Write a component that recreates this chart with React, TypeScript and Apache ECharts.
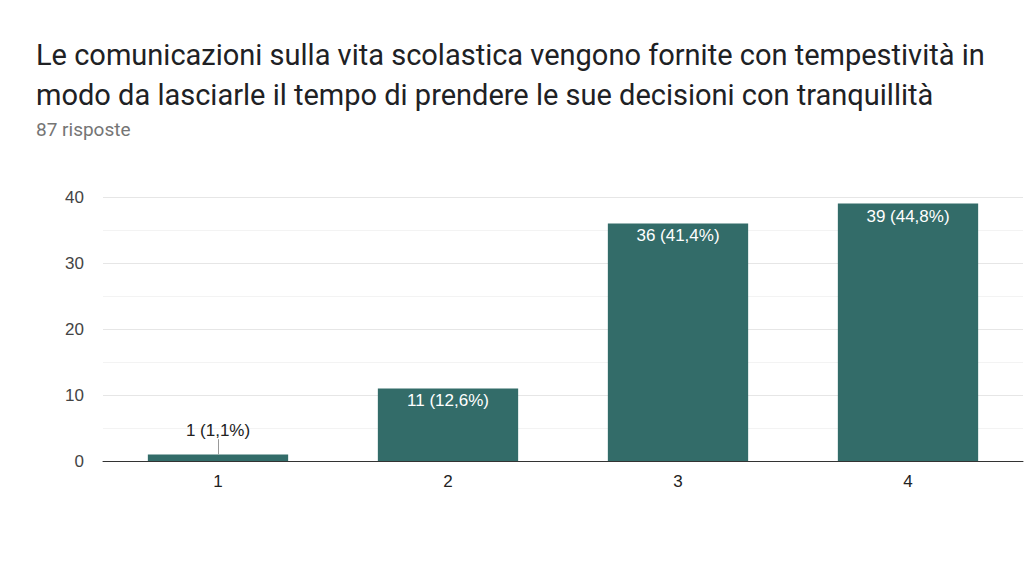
import React, { useEffect, useRef } from "react";
import * as echarts from "echarts";

const titleText =
  "Le comunicazioni sulla vita scolastica vengono fornite con tempestività in\nmodo da lasciarle il tempo di prendere le sue decisioni con tranquillità";
const subtitleText = "87 risposte";
const categories = ["1", "2", "3", "4"];
const values = [1, 11, 36, 39];
const valueLabels = ["1 (1,1%)", "11 (12,6%)", "36 (41,4%)", "39 (44,8%)"];

export default function App() {
  const ref = useRef<HTMLDivElement>(null);
  useEffect(() => {
    if (!ref.current) return;
    const chart = echarts.init(ref.current, undefined, { renderer: "svg" });
    const barColor = "#336c69";
    chart.setOption({
      animation: false,
      backgroundColor: "#ffffff",
      title: {
        text: titleText,
        subtext: subtitleText,
        left: 26,
        top: 35,
        itemGap: 4,
        padding: [0, 10],
        textStyle: {
          fontFamily: "Roboto",
          fontSize: 29,
          fontWeight: "normal",
          color: "#202124",
          lineHeight: 40,
        },
        subtextStyle: {
          fontFamily: "Roboto",
          fontSize: 19,
          color: "#757575",
          lineHeight: 20,
        },
      },
      grid: { left: 103, right: 1, top: 197, bottom: 110, containLabel: false },
      xAxis: {
        type: "category",
        data: categories,
        axisTick: { show: false },
        axisLine: { show: true, lineStyle: { color: "#333333", width: 1 } },
        axisLabel: {
          margin: 12,
          fontFamily: "Liberation Sans, Arial",
          fontSize: 17,
          color: "#222222",
        },
      },
      yAxis: {
        type: "value",
        min: 0,
        max: 40,
        interval: 10,
        axisLine: { show: false },
        axisTick: { show: false },
        axisLabel: {
          margin: 19,
          fontFamily: "Liberation Sans, Arial",
          fontSize: 17,
          color: "#444444",
        },
        splitLine: { show: true, lineStyle: { color: "#e6e6e6", width: 1 } },
        minorTick: { show: false, splitNumber: 2 },
        minorSplitLine: { show: true, lineStyle: { color: "#f3f3f3", width: 1 } },
      },
      series: [
        {
          type: "bar",
          barCategoryGap: "39%",
          data: values.map((v, i) => ({
            value: v,
            label:
              i === 0
                ? {
                    show: true,
                    position: "top",
                    distance: 15,
                    color: "#222222",
                    formatter: valueLabels[i],
                  }
                : {
                    show: true,
                    position: "insideTop",
                    distance: 4,
                    color: "#ffffff",
                    formatter: valueLabels[i],
                  },
          })),
          itemStyle: { color: barColor },
          label: {
            fontFamily: "Liberation Sans, Arial",
            fontSize: 17,
          },
          markLine: {
            silent: true,
            symbol: "none",
            label: { show: false },
            lineStyle: { color: "#999999", width: 1, type: "solid" },
            data: [
              [
                { coord: [categories[0], values[0]] },
                { coord: [categories[0], 3.3] },
              ],
            ],
          },
        },
      ],
    });
    return () => chart.dispose();
  }, []);
  return (
    <div
      ref={ref}
      style={{ position: "fixed", left: 0, top: 0, width: 1024, height: 571 }}
    />
  );
}
